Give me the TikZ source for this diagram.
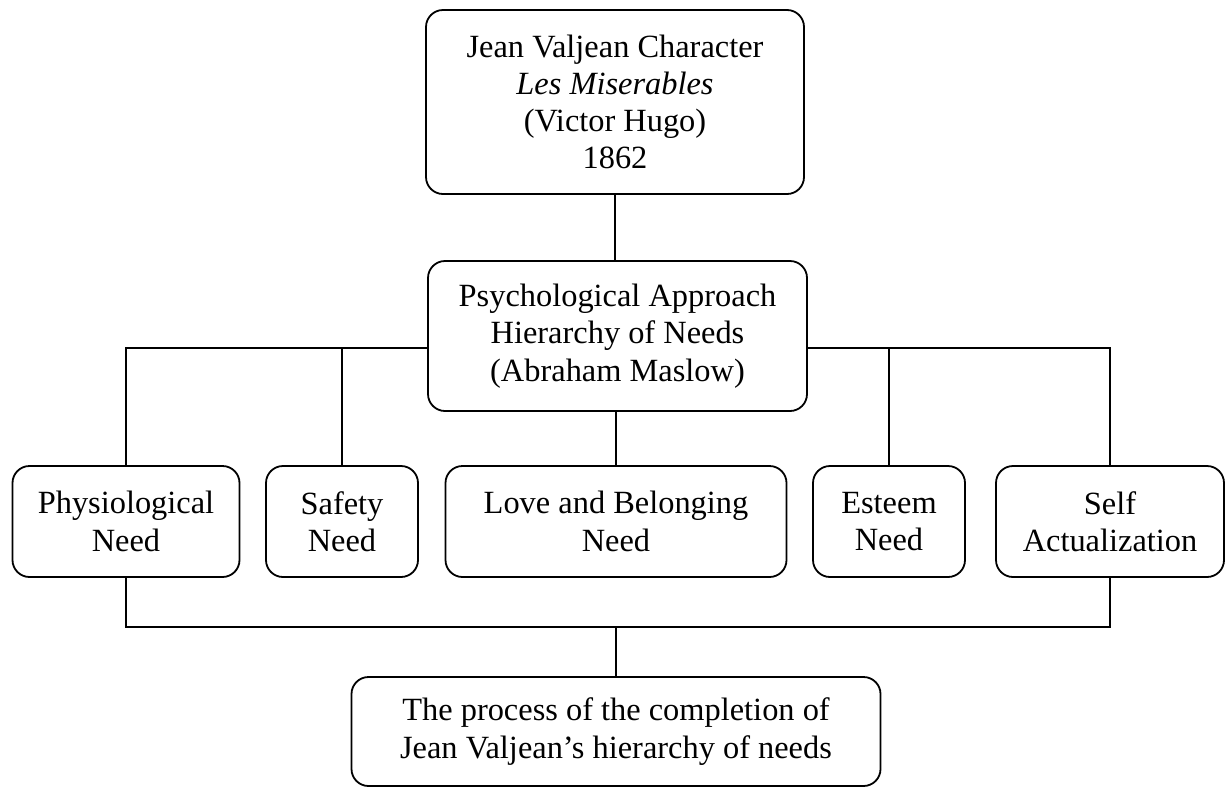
\documentclass[tikz,border=0pt]{standalone}
\usepackage{fontspec}
\setmainfont{Liberation Serif}
\begin{document}
\begin{tikzpicture}[x=0.5pt,y=-0.5pt,
  box/.style={draw,line width=0.9pt,rounded corners=8.5pt,align=center,inner sep=0pt,
    font=\fontsize{16.2}{18.6}\selectfont},
  conn/.style={line width=0.9pt}]
\useasboundingbox (0,0) rectangle (1230,788);
\node[box,minimum width=189pt,minimum height=92pt] (top) at (615,102)
  {Jean Valjean Character\\ \textit{Les Miserables}\\ (Victor Hugo)\\ 1862};
\node[box,minimum width=189.5pt,minimum height=75pt] (psy) at (617.5,336)
  {Psychological Approach\\ Hierarchy of Needs\\ (Abraham Maslow)};
\node[box,minimum width=113.5pt,minimum height=55.5pt] (phys) at (126,521.5) {Physiological\\ Need};
\node[box,minimum width=76pt,minimum height=55.5pt] (safe) at (342,521.5) {Safety\\ Need};
\node[box,minimum width=170.5pt,minimum height=55.5pt] (love) at (616,521.5) {Love and Belonging\\ Need};
\node[box,minimum width=76pt,minimum height=55.5pt] (est) at (889,521.5) {Esteem\\ Need};
\node[box,minimum width=114pt,minimum height=55.5pt] (self) at (1110,521.5) {Self\\ Actualization};
\node[box,minimum width=264.5pt,minimum height=54.5pt] (proc) at (616,731.5)
  {The process of the completion of\\ Jean Valjean’s hierarchy of needs};
\coordinate (bus) at (616,348);
\coordinate (bus2) at (616,627);
\draw[conn] (top.south) -- (top.south |- psy.north);
\draw[conn] (phys.north) |- (bus -| psy.west);
\draw[conn] (safe.north) -- (safe.north |- bus);
\draw[conn] (self.north) |- (bus -| psy.east);
\draw[conn] (est.north) -- (est.north |- bus);
\draw[conn] (love.north) -- (love.north |- psy.south);
\draw[conn] (phys.south) |- (bus2);
\draw[conn] (self.south) |- (bus2);
\draw[conn] (bus2) -- (proc.north);
\end{tikzpicture}
\end{document}
